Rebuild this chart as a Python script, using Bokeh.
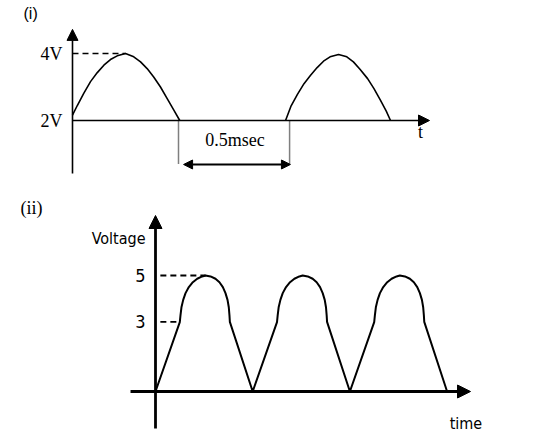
from bokeh.plotting import figure
from bokeh.layouts import column
from bokeh.models import Range1d, Arrow, NormalHead
from bokeh.core.properties import value
from bokeh.embed import file_html
from bokeh.resources import INLINE

# ---------------- data: panel (i)  (time in ms, voltage in V) ----------------
p1_hump1_t = [0.0, 0.022, 0.053, 0.085, 0.117, 0.148, 0.179, 0.211, 0.250,
              0.289, 0.321, 0.352, 0.383, 0.415, 0.446, 0.478, 0.506]
p1_hump1_v = [2.16, 2.44, 2.81, 3.16, 3.43, 3.65, 3.82, 3.93, 4.0,
              3.90, 3.75, 3.55, 3.30, 3.00, 2.66, 2.31, 2.0]
p1_hump2_t = [1.005, 1.030, 1.061, 1.092, 1.123, 1.154, 1.184, 1.215, 1.255,
              1.294, 1.325, 1.356, 1.392, 1.422, 1.453, 1.480, 1.500]
p1_hump2_v = [2.0, 2.42, 2.78, 3.10, 3.35, 3.58, 3.77, 3.90, 3.97,
              3.90, 3.75, 3.53, 3.25, 2.95, 2.60, 2.28, 2.0]
p1_tick_v = [4, 2]
p1_tick_labels = ["4V", "2V"]
p1_peak_t = 0.250
p1_gap_start = 0.5
p1_gap_end = 1.024
p1_gap_label = "0.5msec"
p1_axis_label = "t"
p1_title = "(i)"

# ---------------- data: panel (ii)  (time in periods, voltage) ----------------
p2_hump_t = [0.0, 0.250, 0.257, 0.267, 0.285, 0.309, 0.343, 0.384, 0.429, 0.480,
             0.514, 0.566, 0.617, 0.658, 0.693, 0.720, 0.741, 0.754, 0.761, 0.765, 1.0]
p2_hump_v = [0.0, 2.99, 3.28, 3.63, 3.95, 4.24, 4.50, 4.71, 4.86, 4.96,
             5.0, 4.96, 4.86, 4.71, 4.50, 4.24, 3.95, 3.63, 3.28, 3.0, 0.0]
p2_n_humps = 3
p2_period = 1.0
p2_peak_t = 0.514
p2_knee_t = 0.250
p2_tick_v = [5, 3]
p2_tick_labels = ["5", "3"]
p2_y_label = "Voltage"
p2_x_label = "time"
p2_title = "(ii)"

# ---------------- layout (pixels) ----------------
W = 535
H1, H2 = 190, 253

SERIF = value("Liberation Serif")
NARROW = value("Liberation Sans Narrow, DejaVu Sans Condensed, Liberation Sans")
SANS = value("Liberation Sans")

# panel (i) mapping
p1_x0_px, p1_px_per_ms = 72, 212.0
p1_base_px, p1_px_per_v = 120, 33.5
x1s = -p1_x0_px / p1_px_per_ms
x1e = x1s + W / p1_px_per_ms
y1e = 2 + p1_base_px / p1_px_per_v
y1s = y1e - H1 / p1_px_per_v

p1 = figure(width=W, height=H1, x_range=Range1d(x1s, x1e), y_range=Range1d(y1s, y1e),
            x_axis_type=None, y_axis_type=None, toolbar_location=None,
            output_backend="svg", min_border=0, outline_line_color=None)

# axes as arrows
p1.add_layout(Arrow(x_start=0, y_start=0.42, x_end=0, y_end=4.72, line_width=1.6,
                    line_color="black",
                    end=NormalHead(size=11, fill_color="black", line_color="black", line_width=1)))
p1.add_layout(Arrow(x_start=0, y_start=2, x_end=1.684, y_end=2, line_width=1.6,
                    line_color="black",
                    end=NormalHead(size=11, fill_color="black", line_color="black", line_width=1)))
# waveform
p1.line(p1_hump1_t, p1_hump1_v, line_color="black", line_width=1.6, line_join="round")
p1.line(p1_hump2_t, p1_hump2_v, line_color="black", line_width=1.6, line_join="round")
# dashed 4V guide
p1.line([0, p1_peak_t], [4, 4], line_color="black", line_width=1.3, line_dash="6 4")
# dotted gap markers
for gx in (p1_gap_start, p1_gap_end):
    p1.line([gx, gx], [2, 0.716], line_color="black", line_width=1.5, line_dash="1 1")
# double arrow for the gap
p1.add_layout(Arrow(x_start=0.524, y_start=0.687, x_end=1.028, y_end=0.687, line_width=1.8,
                    line_color="black",
                    start=NormalHead(size=9, fill_color="black", line_color="black", line_width=1),
                    end=NormalHead(size=9, fill_color="black", line_color="black", line_width=1)))
# texts
p1.text(x=[0] * len(p1_tick_v), y=p1_tick_v, text=p1_tick_labels, x_offset=-10,
        text_align="right", text_baseline="middle", text_font=SERIF,
        text_font_size="18px", text_color="black")
p1.text(x=[0.766], y=[1.403], text=[p1_gap_label], text_align="center",
        text_baseline="alphabetic", text_font=SERIF, text_font_size="18px", text_color="black")
p1.text(x=[1.642], y=[1.642], text=[p1_axis_label], text_align="center",
        text_baseline="alphabetic", text_font=SERIF, text_font_size="18px", text_color="black")
p1.text(x=[-0.231], y=[5.194], text=[p1_title], text_align="left",
        text_baseline="alphabetic", text_font=SANS, text_font_size="16px", text_color="black")

# panel (ii) mapping
p2_x0_px, p2_px_per_t = 155, 97.2
p2_base_px, p2_px_per_v = 391 - H1, 23.2
x2s = -p2_x0_px / p2_px_per_t
x2e = x2s + W / p2_px_per_t
y2e = p2_base_px / p2_px_per_v
y2s = y2e - H2 / p2_px_per_v

p2 = figure(width=W, height=H2, x_range=Range1d(x2s, x2e), y_range=Range1d(y2s, y2e),
            x_axis_type=None, y_axis_type=None, toolbar_location=None,
            output_backend="svg", min_border=0, outline_line_color=None)

p2.add_layout(Arrow(x_start=0, y_start=-1.595, x_end=0, y_end=7.586, line_width=2.8,
                    line_color="black",
                    end=NormalHead(size=13, fill_color="black", line_color="black", line_width=1)))
p2.add_layout(Arrow(x_start=-0.257, y_start=0, x_end=3.241, y_end=0, line_width=2.8,
                    line_color="black",
                    end=NormalHead(size=13, fill_color="black", line_color="black", line_width=1)))

wave_t, wave_v = [], []
for k in range(p2_n_humps):
    for t, v in zip(p2_hump_t, p2_hump_v):
        if k > 0 and t == 0.0:
            continue
        wave_t.append(t + k * p2_period)
        wave_v.append(v)
p2.line(wave_t, wave_v, line_color="black", line_width=2, line_join="round")

p2.line([0.05, p2_peak_t], [5, 5], line_color="black", line_width=1.8, line_dash="6 4")
p2.line([0.05, p2_knee_t], [3, 3], line_color="black", line_width=1.8, line_dash="6 4")

p2.text(x=[0] * len(p2_tick_v), y=p2_tick_v, text=p2_tick_labels, x_offset=-10,
        text_align="right", text_baseline="middle", text_font=NARROW,
        text_font_size="18px", text_color="black")
p2.text(x=[0], y=[6.595], text=[p2_y_label], x_offset=-10, text_align="right",
        text_baseline="middle", text_font=NARROW, text_font_size="16px", text_color="black")
p2.text(x=[3.194], y=[-1.379], text=[p2_x_label], text_align="center",
        text_baseline="alphabetic", text_font=NARROW, text_font_size="16px", text_color="black")
p2.text(x=[-1.389], y=[7.931], text=[p2_title], text_align="left",
        text_baseline="alphabetic", text_font=SERIF, text_font_size="18px", text_color="black")

layout = column(p1, p2, spacing=0)
open("out.html", "w").write(file_html(layout, INLINE))
